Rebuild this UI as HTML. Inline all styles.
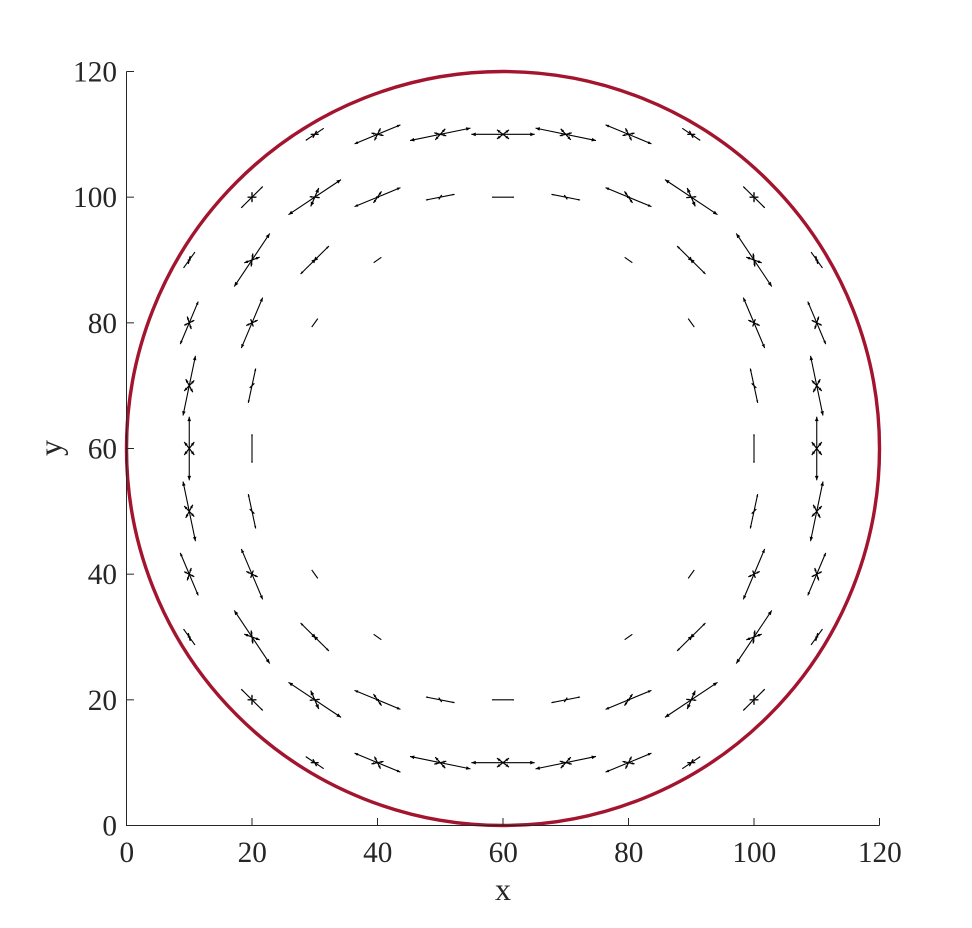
<!DOCTYPE html>
<html>
<head>
<meta charset="utf-8">
<title>Stress vectors in a circular domain</title>
<style>
  html, body { margin: 0; padding: 0; background: #ffffff; }
  svg { display: block; }
  text { font-family: "Liberation Serif", "Times New Roman", serif; fill: #262626; }
</style>
</head>
<body>
<svg id="chart" xmlns="http://www.w3.org/2000/svg" width="972" height="928" viewBox="0 0 972 928">
  <rect x="0" y="0" width="972" height="928" fill="#ffffff"></rect>
  <g id="marks"></g>
  <g id="boundary"></g>
  <g id="axes"></g>
  <text x="503" y="900" font-size="32" text-anchor="middle">x</text>
  <text transform="translate(61 448) rotate(-90)" font-size="32" text-anchor="middle">y</text>
</svg>
<script>
var xTicks = [0, 20, 40, 60, 80, 100, 120];
var yTicks = [0, 20, 40, 60, 80, 100, 120];
var axisLimits = [0, 120];
var circleCenter = [60, 60];
var circleRadius = [60];

var pointX = [
  30,40,50,60,70,80,90,
  20,30,40,50,60,70,80,90,100,
  10,20,30,40,80,90,100,110,
  10,20,30,90,100,110,
  10,20,100,110,
  10,20,100,110,
  10,20,100,110,
  10,20,30,90,100,110,
  10,20,30,40,80,90,100,110,
  20,30,40,50,60,70,80,90,100,
  30,40,50,60,70,80,90
];
var pointY = [
  110,110,110,110,110,110,110,
  100,100,100,100,100,100,100,100,100,
  90,90,90,90,90,90,90,90,
  80,80,80,80,80,80,
  70,70,70,70,
  60,60,60,60,
  50,50,50,50,
  40,40,40,40,40,40,
  30,30,30,30,30,30,30,30,
  20,20,20,20,20,20,20,20,20,
  10,10,10,10,10,10,10
];
var majorU = [
  1.43,3.66,4.82,5.05,4.82,3.66,1.43,
  1.72,4.19,3.66,2.28,1.75,2.28,3.66,4.19,1.72,
  0.91,2.83,2.26,0.61,0.61,2.26,2.83,0.91,
  1.43,1.70,0.48,0.48,1.70,1.43,
  0.99,0.59,0.59,0.99,
  0,0,0,0,
  0.99,0.59,0.59,0.99,
  1.43,1.70,0.48,0.48,1.70,1.43,
  0.91,2.83,2.26,0.61,0.61,2.26,2.83,0.91,
  1.72,4.19,3.66,2.28,1.75,2.28,3.66,4.19,1.72,
  1.43,3.66,4.82,5.05,4.82,3.66,1.43
];
var majorV = [
  0.96,1.51,0.99,0,-0.99,-1.51,-0.96,
  1.70,2.79,1.51,0.45,0,-0.45,-1.51,-2.79,-1.70,
  1.27,4.22,2.23,0.43,-0.43,-2.23,-4.22,-1.27,
  3.39,4.01,0.67,-0.67,-4.01,-3.39,
  4.75,2.74,-2.74,-4.75,
  5.06,2.28,2.28,5.06,
  -4.75,-2.74,2.74,4.75,
  -3.39,-4.01,-0.67,0.67,4.01,3.39,
  -1.27,-4.22,-2.23,-0.43,0.43,2.23,4.22,1.27,
  -1.70,-2.79,-1.51,-0.45,0,0.45,1.51,2.79,1.70,
  -0.96,-1.51,-0.99,0,0.99,1.51,0.96
];
var armAU = [
  0.29,0.48,0.80,0.96,0.80,0.48,0.29,
  0,0.64,0.64,0.24,0,0.24,0.64,0.64,0,
  0.16,0.13,0.16,0,0,0.16,0.13,0.16,
  0.32,0.21,0,0,0.21,0.32,
  0.56,0,0,0.56,
  0.80,0,0,0.80,
  0.56,0,0,0.56,
  0.32,0.21,0,0,0.21,0.32,
  0.16,0.13,0.16,0,0,0.16,0.13,0.16,
  0,0.64,0.64,0.24,0,0.24,0.64,0.64,0,
  0.29,0.48,0.80,0.96,0.80,0.48,0.29
];
var armAV = [
  0.56,0.96,0.88,0.72,-0.88,-0.96,-0.56,
  0.80,1.46,0.92,0.35,0,-0.35,-0.92,-1.46,-0.80,
  0.64,1.04,0.48,0,0,-0.48,-1.04,-0.64,
  -0.99,-0.59,0,0,0.59,0.99,
  -1.04,0,0,1.04,
  -1.04,0,0,-1.04,
  1.04,0,0,-1.04,
  0.99,0.59,0,0,-0.59,-0.99,
  -0.64,-1.04,-0.48,0,0,0.48,1.04,0.64,
  -0.80,-1.46,-0.92,-0.35,0,0.35,0.92,1.46,0.80,
  -0.56,-0.96,-0.88,-0.72,0.88,0.96,0.56
];
var armBU = [
  0.64,0.96,0.96,0.96,0.96,0.96,0.64,
  0.72,0.80,0.24,0,0,0,0.24,0.80,0.72,
  0.24,1.23,0.48,0,0,0.48,1.23,0.24,
  0.80,0.91,0,0,0.91,0.80,
  0.80,0.37,0.37,0.80,
  0.80,0,0,0.80,
  0.80,0.37,0.37,0.80,
  0.80,0.91,0,0,0.91,0.80,
  0.24,1.23,0.48,0,0,0.48,1.23,0.24,
  0.72,0.80,0.24,0,0,0,0.24,0.80,0.72,
  0.64,0.96,0.96,0.96,0.96,0.96,0.64
];
var armBV = [
  0,-0.19,-0.24,-0.72,0.24,0.19,0,
  0,-0.08,-0.05,0,0,0,0.05,0.08,0,
  0,0.45,0.16,0,0,-0.16,-0.45,0,
  0.40,0.43,0,0,-0.43,-0.40,
  0.84,0.37,-0.37,-0.84,
  1.04,0,0,1.04,
  -0.84,-0.37,0.37,0.84,
  -0.40,-0.43,0,0,0.43,0.40,
  0,-0.45,-0.16,0,0,0.16,0.45,0,
  0,0.08,0.05,0,0,0,-0.05,-0.08,0,
  0,0.19,0.24,0.72,-0.24,-0.19,0
];

var SVGNS = 'http://www.w3.org/2000/svg';
var plotLeft = 126.5, plotRight = 879.5, plotBottom = 825.5, plotTop = 71.5;

function sx(v) {
  return plotLeft + (v - axisLimits[0]) / (axisLimits[1] - axisLimits[0]) * (plotRight - plotLeft);
}
function sy(v) {
  return plotBottom - (v - axisLimits[0]) / (axisLimits[1] - axisLimits[0]) * (plotBottom - plotTop);
}
function make(tag, parent) {
  var el = document.createElementNS(SVGNS, tag);
  parent.appendChild(el);
  return el;
}
function setAttrs(el, attrs) {
  for (var k in attrs) { el.setAttribute(k, attrs[k]); }
}
function head(parent, tipX, tipY, dirX, dirY, size) {
  var baseX = tipX - dirX * size, baseY = tipY - dirY * size;
  var w = size * 0.42;
  var pts = tipX + ',' + tipY + ' ' +
            (baseX - dirY * w) + ',' + (baseY + dirX * w) + ' ' +
            (baseX + dirY * w) + ',' + (baseY - dirX * w);
  var tri = make('polygon', parent);
  setAttrs(tri, { points: pts, fill: '#000000' });
  
  
}
function drawVector(parent, x, y, u, v, ratio, strokeWidth, name) {
  if (u === 0 && v === 0) { return; }
  var x1 = sx(x - u), y1 = sy(y - v), x2 = sx(x + u), y2 = sy(y + v);
  var dx = x2 - x1, dy = y2 - y1, len = Math.sqrt(dx * dx + dy * dy);
  var ux = dx / len, uy = dy / len, size = ratio * len / 2;
  var g = make('g', parent);
  
  
  var ln = make('line', g);
  setAttrs(ln, { x1: x1, y1: y1, x2: x2, y2: y2, stroke: '#000000', 'stroke-width': strokeWidth });
  
  
  head(g, x2, y2, ux, uy, size);
  head(g, x1, y1, -ux, -uy, size);
}

var marks = document.getElementById('marks');
for (var i = 0; i < pointX.length; i++) {
  drawVector(marks, pointX[i], pointY[i], majorU[i], majorV[i], 0.14, 1.1, 'major-vector');
  drawVector(marks, pointX[i], pointY[i], armAU[i], armAV[i], 0.45, 1.2, 'minor-vector-a');
  drawVector(marks, pointX[i], pointY[i], armBU[i], armBV[i], 0.45, 1.2, 'minor-vector-b');
}

var boundary = document.getElementById('boundary');
var circle = make('ellipse', boundary);
setAttrs(circle, {
  cx: sx(circleCenter[0]), cy: sy(circleCenter[1]),
  rx: sx(circleCenter[0] + circleRadius[0]) - sx(circleCenter[0]),
  ry: sy(circleCenter[1]) - sy(circleCenter[1] + circleRadius[0]),
  fill: 'none', stroke: '#a3142e', 'stroke-width': 3.4
});



var axes = document.getElementById('axes');
var axisColor = '#262626', tickLen = 7.5;

var yAxis = make('line', axes);
setAttrs(yAxis, { x1: plotLeft, y1: plotTop, x2: plotLeft, y2: plotBottom + 0.5, stroke: axisColor, 'stroke-width': 1 });



var xAxis = make('line', axes);
setAttrs(xAxis, { x1: plotLeft, y1: plotBottom, x2: plotRight, y2: plotBottom, stroke: axisColor, 'stroke-width': 1 });



xTicks.forEach(function (t) {
  var tick = make('line', axes);
  setAttrs(tick, { x1: sx(t), y1: plotBottom, x2: sx(t), y2: plotBottom - tickLen, stroke: axisColor, 'stroke-width': 1 });
  
  
  var label = make('text', axes);
  setAttrs(label, { x: sx(t) + 0.3, y: 862, 'font-size': 29.3, 'text-anchor': 'middle' });
  
  
  label.textContent = String(t);
});

yTicks.forEach(function (t) {
  var tick = make('line', axes);
  setAttrs(tick, { x1: plotLeft, y1: sy(t), x2: plotLeft + tickLen, y2: sy(t), stroke: axisColor, 'stroke-width': 1 });
  
  
  var label = make('text', axes);
  setAttrs(label, { x: 117, y: sy(t) + 10, 'font-size': 29.3, 'text-anchor': 'end' });
  
  
  label.textContent = String(t);
});
</script>
</body>
</html>
